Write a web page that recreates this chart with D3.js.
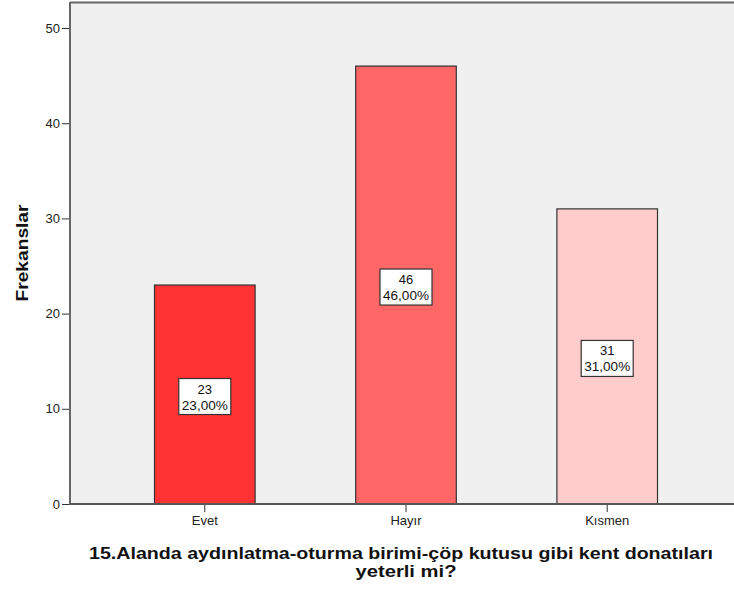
<!DOCTYPE html>
<html><head><meta charset="utf-8">
<script src="https://cdn.jsdelivr.net/npm/d3@7"></script>
<style>body{margin:0;background:#fff;} svg{display:block;font-family:"Liberation Sans",Arial,sans-serif;}</style>
</head><body>
<svg id="c" width="734" height="589"></svg>
<script>
const categories = ["Evet", "Hayır", "Kısmen"];
const counts = [23, 46, 31];
const percents = ["23,00%", "46,00%", "31,00%"];
const colors = ["#ff3333", "#ff6666", "#ffcccc"];
const yTicks = [0, 10, 20, 30, 40, 50];
const yTitle = "Frekanslar";
const xTitle = ["15.Alanda aydınlatma-oturma birimi-çöp kutusu gibi kent donatıları", "yeterli mi?"];

const svg = d3.select("#c");
const pLeft = 70, pTop = 2, pRight = 742, pBottom = 504;
const x = d3.scaleBand().domain(categories).range([pLeft, pRight]).paddingInner(0.5).paddingOuter(0.42);
const y = d3.scaleLinear().domain([0, 50]).range([pBottom, 28]);

svg.append("rect").attr("x", pLeft).attr("y", pTop).attr("width", 734 - pLeft).attr("height", pBottom - pTop).attr("fill", "#f0f0f0");

svg.selectAll("rect.bar").data(categories).enter().append("rect")
  .attr("class", "bar")
  .attr("x", d => x(d)).attr("width", x.bandwidth())
  .attr("y", (d, i) => y(counts[i])).attr("height", (d, i) => y(0) - y(counts[i]))
  .attr("fill", (d, i) => colors[i]).attr("stroke", "#333").attr("stroke-width", 1.2);

svg.append("line").attr("x1", pLeft).attr("x2", 734).attr("y1", pTop + 0.5).attr("y2", pTop + 0.5).attr("stroke", "#666").attr("stroke-width", 2);

const yAxis = svg.append("g").attr("transform", `translate(${pLeft},0)`)
  .call(d3.axisLeft(y).tickValues(yTicks).tickSize(8).tickPadding(2).tickFormat(d3.format("d")));
yAxis.select(".domain").remove();
yAxis.selectAll(".tick line").attr("stroke", "#333");
yAxis.selectAll("text").attr("font-size", 13).attr("fill", "#222").attr("font-family", "Liberation Sans, Arial, sans-serif");
svg.append("line").attr("x1", pLeft).attr("x2", pLeft).attr("y1", pTop).attr("y2", pBottom + 1).attr("stroke", "#666").attr("stroke-width", 2);

const xAxis = svg.append("g").attr("transform", `translate(0,${pBottom})`)
  .call(d3.axisBottom(x).tickSize(8).tickPadding(4));
xAxis.select(".domain").remove();
xAxis.selectAll(".tick line").attr("stroke", "#333");
xAxis.selectAll("text").attr("font-size", 13).attr("fill", "#222").attr("font-family", "Liberation Sans, Arial, sans-serif");
svg.append("line").attr("x1", pLeft).attr("x2", 734).attr("y1", pBottom).attr("y2", pBottom).attr("stroke", "#555").attr("stroke-width", 2);

categories.forEach((c, i) => {
  const cx = x(c) + x.bandwidth() / 2;
  const cy = (y(counts[i]) + y(0)) / 2 + 2;
  const g = svg.append("g");
  const w = 52, h = 36;
  g.append("rect").attr("x", cx - w / 2).attr("y", cy - h / 2).attr("width", w).attr("height", h)
    .attr("fill", "#fff").attr("stroke", "#333").attr("stroke-width", 1.2);
  g.append("text").attr("x", cx).attr("y", cy - 3).attr("text-anchor", "middle").attr("font-size", 13).attr("fill", "#111").text(String(counts[i]));
  g.append("text").attr("x", cx).attr("y", cy + 13).attr("text-anchor", "middle").attr("font-size", 13)
    .attr("textLength", 46).attr("lengthAdjust", "spacingAndGlyphs").attr("fill", "#111").text(percents[i]);
});

svg.append("text").attr("transform", `translate(28,253) rotate(-90)`).attr("text-anchor", "middle")
  .attr("font-size", 16).attr("font-weight", "bold").attr("fill", "#111")
  .attr("textLength", 97).attr("lengthAdjust", "spacingAndGlyphs").text(yTitle);

const titleLens = [624, 101];
const titleX = [401, 406];
xTitle.forEach((t, i) => {
  svg.append("text").attr("x", titleX[i]).attr("y", 559 + i * 18).attr("text-anchor", "middle")
    .attr("font-size", 17).attr("font-weight", "bold").attr("fill", "#111")
    .attr("textLength", titleLens[i]).attr("lengthAdjust", "spacingAndGlyphs").text(t);
});
</script>
</body></html>
